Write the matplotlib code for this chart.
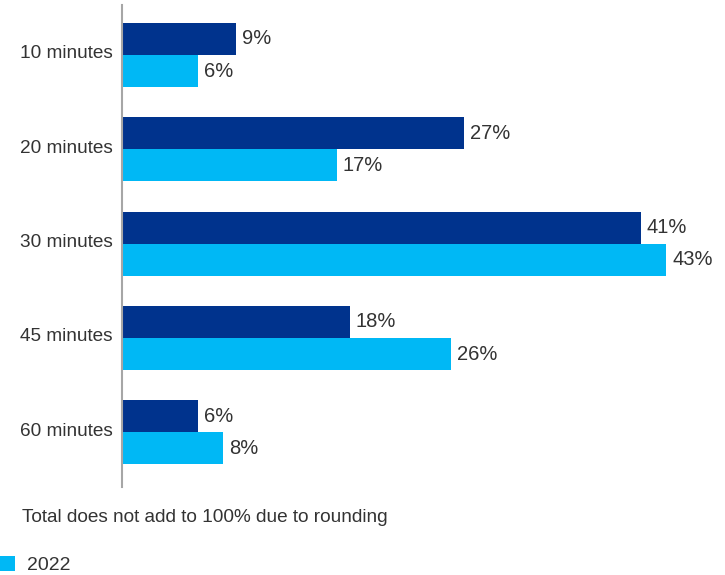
import matplotlib.pyplot as plt
from matplotlib.patches import Patch
from matplotlib.transforms import ScaledTranslation

plt.rcParams['font.family'] = ['Liberation Sans', 'DejaVu Sans']

categories = ['10 minutes', '20 minutes', '30 minutes', '45 minutes', '60 minutes']
earlier = [9, 27, 41, 18, 6]
year_2022 = [6, 17, 43, 26, 8]

dark_blue = '#00338D'
light_blue = '#00B8F5'
text_col = '#333333'

W, H = 725, 575
fig = plt.figure(figsize=(W / 100, H / 100), dpi=100)
# axes box in pixels: left 122, top 5, bottom 487, right 715
ax = fig.add_axes([122 / W, 1 - 487 / H, (715 - 122) / W, (487 - 5) / H])

y = range(len(categories))
h = 0.34
ax.barh([i - h / 2 for i in y], earlier, height=h, color=dark_blue)
ax.barh([i + h / 2 for i in y], year_2022, height=h, color=light_blue)

for i in y:
    ax.text(earlier[i] + 0.45, i - h / 2, f'{earlier[i]}%', va='center', ha='left',
            fontsize=14.5, color=text_col)
    ax.text(year_2022[i] + 0.45, i + h / 2, f'{year_2022[i]}%', va='center', ha='left',
            fontsize=14.5, color=text_col)

ax.set_xlim(0, 593 / 12.66)
ax.set_ylim(4.58, -0.53)
ax.set_yticks(list(y))
ax.set_yticklabels(categories, fontsize=13.7, color=text_col)
ax.tick_params(axis='y', length=0, pad=7)
# nudge category labels up a few pixels
shift = ScaledTranslation(0, 3 / 100, fig.dpi_scale_trans)
for lab in ax.get_yticklabels():
    lab.set_transform(lab.get_transform() + shift)
ax.set_xticks([])
for side in ['top', 'right', 'bottom']:
    ax.spines[side].set_visible(False)
ax.spines['left'].set_color('#A6A6A6')
ax.spines['left'].set_linewidth(1.5)

fig.text(22 / W, 1 - 518 / H, 'Total does not add to 100% due to rounding',
         fontsize=13.7, color=text_col, va='center', ha='left')

handles = [Patch(facecolor=light_blue, edgecolor='none')]
fig.legend(handles, ['2022'], loc='upper left', bbox_to_anchor=(-0.012, 1 - 548 / H),
           frameon=False, fontsize=14, handlelength=0.8, handleheight=0.85,
           handletextpad=0.65, borderaxespad=0, labelcolor=text_col)

fig.savefig('out.png', dpi=100)
